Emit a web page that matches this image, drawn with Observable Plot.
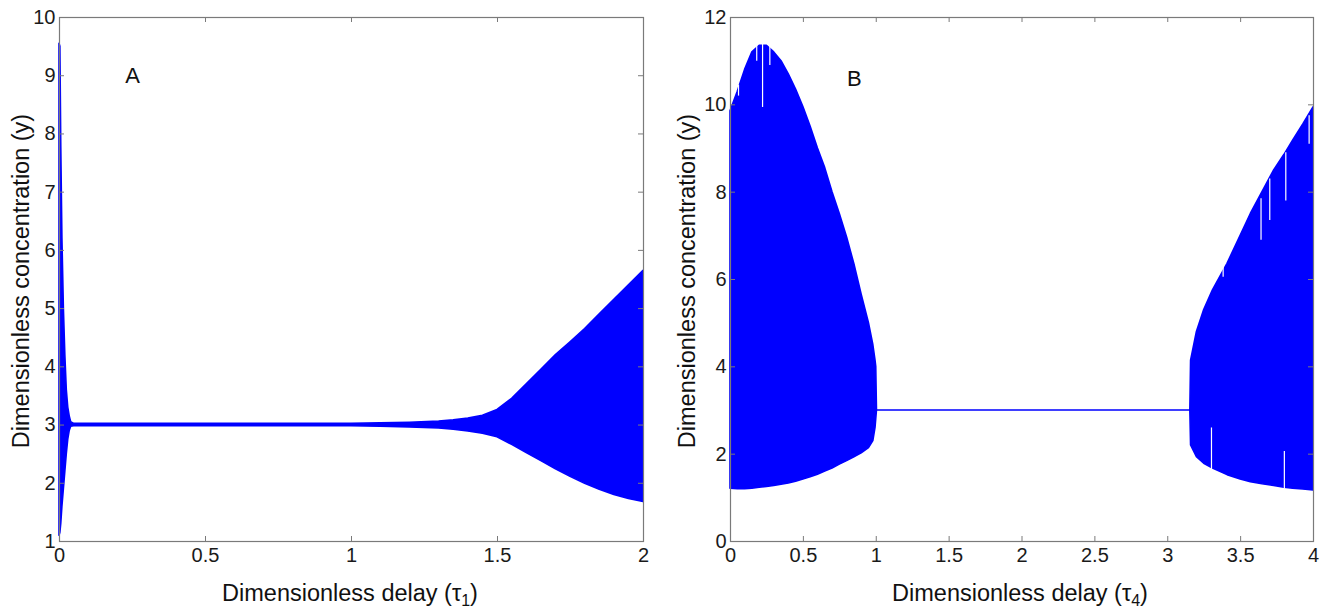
<!DOCTYPE html>
<html>
<head>
<meta charset="utf-8">
<script src="https://cdn.jsdelivr.net/npm/d3@7"></script>
<script src="https://cdn.jsdelivr.net/npm/@observablehq/plot@0.6"></script>
<style>
  html, body { margin: 0; padding: 0; background: #fff; }
  #wrap { position: relative; width: 1329px; height: 610px; overflow: hidden; font-family: "Liberation Sans", Arial, sans-serif; }
  #wrap svg { position: absolute; top: 0; }
</style>
</head>
<body>
<div id="wrap"></div>
<script>
// ---------- Panel A data (tau1) ----------
const aX     = [0, 0.003, 0.006, 0.01, 0.015, 0.02, 0.025, 0.03, 0.035, 0.04, 0.05, 0.1, 0.5, 1.0, 1.1, 1.2, 1.3, 1.35, 1.4, 1.45, 1.5, 1.55, 1.6, 1.65, 1.7, 1.75, 1.8, 1.85, 1.9, 1.95, 2.0];
const aUpper = [9.55, 9.5, 7.8, 6.2, 5.0, 4.2, 3.6, 3.3, 3.15, 3.05, 3.02, 3.02, 3.02, 3.02, 3.03, 3.04, 3.06, 3.08, 3.11, 3.16, 3.26, 3.45, 3.7, 3.95, 4.2, 4.42, 4.65, 4.9, 5.15, 5.4, 5.65];
const aLower = [1.1, 1.15, 1.3, 1.6, 1.9, 2.2, 2.5, 2.75, 2.9, 2.97, 2.98, 2.98, 2.98, 2.98, 2.97, 2.96, 2.94, 2.92, 2.89, 2.85, 2.79, 2.66, 2.52, 2.38, 2.24, 2.11, 1.99, 1.89, 1.8, 1.73, 1.68];
const aXTicks = [0, 0.5, 1, 1.5, 2];
const aYTicks = [1, 2, 3, 4, 5, 6, 7, 8, 9, 10];
const aLabel = [{x: 0.25, y: 9.0, text: "A"}];

// ---------- Panel B data (tau4) ----------
const bX     = [0, 0.05, 0.1, 0.15, 0.2, 0.25, 0.3, 0.35, 0.4, 0.45, 0.5, 0.55, 0.6, 0.65, 0.7, 0.75, 0.8, 0.85, 0.9, 0.95, 0.98, 0.995, 1.0, 1.005, 3.155, 3.16, 3.2, 3.25, 3.31, 3.41, 3.5, 3.57, 3.65, 3.73, 3.8, 3.86, 3.93, 4.0];
const bUpper = [9.85, 10.3, 10.8, 11.2, 11.35, 11.35, 11.2, 11.0, 10.7, 10.35, 9.95, 9.5, 9.0, 8.55, 8.0, 7.5, 6.96, 6.35, 5.65, 5.0, 4.5, 4.14, 4.0, 3.0, 3.0, 4.14, 4.8, 5.3, 5.75, 6.36, 7.0, 7.5, 8.0, 8.5, 8.85, 9.18, 9.55, 9.94];
const bLower = [1.21, 1.2, 1.2, 1.21, 1.23, 1.25, 1.27, 1.3, 1.33, 1.37, 1.42, 1.47, 1.53, 1.6, 1.67, 1.76, 1.84, 1.93, 2.02, 2.14, 2.3, 2.6, 2.8, 3.0, 3.0, 2.2, 1.93, 1.78, 1.67, 1.52, 1.42, 1.36, 1.31, 1.27, 1.23, 1.21, 1.19, 1.17];
const bXTicks = [0, 0.5, 1, 1.5, 2, 2.5, 3, 3.5, 4];
const bYTicks = [0, 2, 4, 6, 8, 10, 12];
const bLabel = [{x: 0.85, y: 10.6, text: "B"}];
// white gaps inside the B envelope (x, from, to)
const bGapX  = [0.055, 0.18, 0.22, 0.27, 3.3, 3.38, 3.64, 3.70, 3.80, 3.81, 3.97];
const bGapY1 = [10.2, 11.0, 9.94, 10.9, 1.6, 6.05, 6.9, 7.35, 1.2, 7.8, 9.1];
const bGapY2 = [10.45, 11.4, 11.4, 11.35, 2.6, 6.4, 7.85, 8.3, 2.06, 8.9, 9.75];

const BLUE = "#0000ff";
const FRAME = "#7a7a7a";
const fmt = d => String(d);

function panel({xs, ups, lows, xDomain, yDomain, xTicks, yTicks, labels, gaps, width, marginLeft, marginRight}) {
  const height = 610, marginTop = 17, marginBottom = 69;
  const ph = height - marginTop - marginBottom;
  const pw = width - marginLeft - marginRight;
  const rows = xs.map((x, i) => ({x, lo: lows[i], hi: ups[i]}));
  const marks = [
    Plot.areaY(rows, {x: "x", y1: "lo", y2: "hi", fill: BLUE, stroke: BLUE, strokeWidth: 1.6, curve: "linear"})
  ];
  if (gaps) {
    marks.push(Plot.ruleX(gaps.x.map((x, i) => ({x, y1: gaps.y1[i], y2: gaps.y2[i]})), {x: "x", y1: "y1", y2: "y2", stroke: "#fff", strokeWidth: 1.2}));
  }
  marks.push(
    Plot.frame({stroke: FRAME, strokeWidth: 1.2}),
    // inward ticks on all four sides
    Plot.tickX(xTicks, {x: d => d, stroke: FRAME, insetTop: ph - 5}),
    Plot.tickX(xTicks, {x: d => d, stroke: FRAME, insetBottom: ph - 5}),
    Plot.tickY(yTicks, {y: d => d, stroke: FRAME, insetRight: pw - 5}),
    Plot.tickY(yTicks, {y: d => d, stroke: FRAME, insetLeft: pw - 5}),
    Plot.axisX(xTicks, {anchor: "bottom", tickSize: 0, tickPadding: 6, tickFormat: fmt, label: null, fill: "#1a1a1a"}),
    Plot.axisY(yTicks, {anchor: "left", tickSize: 0, tickPadding: 4, tickFormat: fmt, label: null, fill: "#1a1a1a"}),
    Plot.text(labels, {x: "x", y: "y", text: "text", fontSize: 22, fill: "#111"})
  );
  return Plot.plot({
    width, height, marginTop, marginBottom, marginLeft, marginRight,
    x: {domain: xDomain, ticks: xTicks},
    y: {domain: yDomain, ticks: yTicks},
    style: {fontFamily: "Liberation Sans, Arial, sans-serif", fontSize: "20px", background: "transparent", overflow: "visible"},
    marks
  });
}

function addTitles(svg, xCenter, sub, yCenterX) {
  const s = d3.select(svg);
  const t = s.append("text")
    .attr("x", xCenter).attr("y", 601)
    .attr("text-anchor", "middle")
    .attr("font-family", "Liberation Sans, Arial, sans-serif")
    .attr("font-size", 23.5).attr("fill", "#111");
  t.append("tspan").text("Dimensionless delay (τ");
  t.append("tspan").text(sub).attr("font-size", 16).attr("dy", 5);
  t.append("tspan").text(")").attr("dy", -5);
  s.append("text")
    .attr("transform", `translate(${yCenterX},281) rotate(-90)`)
    .attr("text-anchor", "middle")
    .attr("dy", "0.35em")
    .attr("font-family", "Liberation Sans, Arial, sans-serif")
    .attr("font-size", 23.5).attr("fill", "#111")
    .text("Dimensionless concentration (y)");
}

const wrap = document.getElementById("wrap");

const svgA = panel({xs: aX, ups: aUpper, lows: aLower, xDomain: [0, 2], yDomain: [1, 10],
  xTicks: aXTicks, yTicks: aYTicks, labels: aLabel, gaps: null, width: 660, marginLeft: 59, marginRight: 17});
addTitles(svgA, 350, "1", 21);
svgA.style.left = "0px";
wrap.appendChild(svgA);

const svgB = panel({xs: bX, ups: bUpper, lows: bLower, xDomain: [0, 4], yDomain: [0, 12],
  xTicks: bXTicks, yTicks: bYTicks, labels: bLabel, gaps: {x: bGapX, y1: bGapY1, y2: bGapY2}, width: 664, marginLeft: 65, marginRight: 16});
addTitles(svgB, 355, "4", 22);
svgB.style.left = "665px";
wrap.appendChild(svgB);
</script>
</body>
</html>
